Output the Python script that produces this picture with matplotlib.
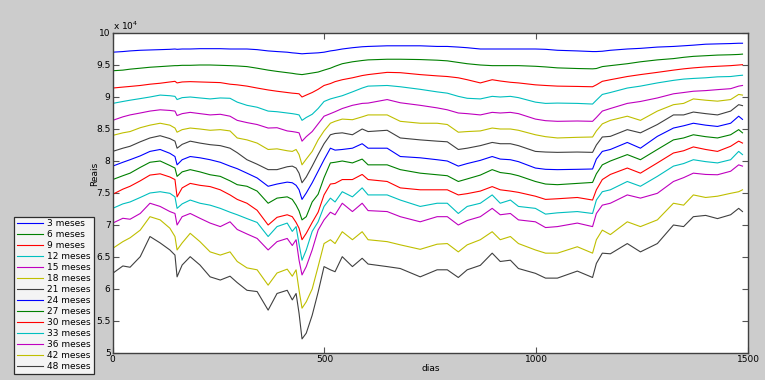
import numpy as np
import matplotlib
matplotlib.use('Agg')
import matplotlib.pyplot as plt

# dias (eixo x) onde os valores foram lidos
dias = [0, 24, 41, 65, 88, 112, 135, 147, 152, 164, 183,
        206, 230, 254, 277, 294, 317, 341, 367, 388, 412, 424,
        433, 440, 447, 457, 471, 485, 499, 514, 525, 542, 566,
        589, 603, 648, 679, 726, 766, 790, 816, 837, 868, 896,
        915, 939, 958, 998, 1022, 1050, 1097, 1133, 1142, 1156, 1175,
        1215, 1246, 1286, 1324, 1348, 1371, 1400, 1428, 1459, 1478, 1487]

# valores em reais / 10^4
m03 = [9.70, 9.71, 9.72, 9.73, 9.735, 9.74, 9.745, 9.75, 9.745, 9.75, 9.75,
       9.755, 9.755, 9.755, 9.75, 9.75, 9.75, 9.74, 9.72, 9.71, 9.70, 9.69,
       9.685, 9.68, 9.675, 9.68, 9.685, 9.69, 9.70, 9.72, 9.73, 9.75, 9.77,
       9.785, 9.79, 9.80, 9.80, 9.80, 9.79, 9.79, 9.78, 9.77, 9.75, 9.75,
       9.75, 9.75, 9.75, 9.75, 9.745, 9.73, 9.72, 9.71, 9.71, 9.715, 9.73,
       9.75, 9.76, 9.78, 9.79, 9.80, 9.81, 9.825, 9.83, 9.835, 9.84, 9.84]
m06 = [9.41, 9.42, 9.435, 9.45, 9.465, 9.475, 9.485, 9.49, 9.49, 9.495, 9.495,
       9.50, 9.50, 9.495, 9.49, 9.485, 9.475, 9.45, 9.42, 9.40, 9.38, 9.37,
       9.36, 9.355, 9.35, 9.36, 9.375, 9.39, 9.42, 9.45, 9.48, 9.52, 9.55,
       9.57, 9.58, 9.59, 9.59, 9.585, 9.575, 9.565, 9.54, 9.52, 9.50, 9.49,
       9.49, 9.49, 9.49, 9.48, 9.47, 9.455, 9.445, 9.44, 9.445, 9.475, 9.49,
       9.52, 9.55, 9.58, 9.60, 9.62, 9.635, 9.645, 9.655, 9.66, 9.665, 9.67]
m09 = [9.14, 9.155, 9.165, 9.18, 9.20, 9.215, 9.235, 9.245, 9.22, 9.235, 9.24,
       9.235, 9.23, 9.225, 9.20, 9.19, 9.17, 9.14, 9.11, 9.09, 9.07, 9.06,
       9.055, 9.05, 9.00, 9.03, 9.07, 9.12, 9.18, 9.21, 9.24, 9.27, 9.30,
       9.335, 9.35, 9.385, 9.38, 9.35, 9.33, 9.32, 9.30, 9.27, 9.22, 9.27,
       9.25, 9.23, 9.22, 9.19, 9.18, 9.17, 9.165, 9.16, 9.19, 9.245, 9.27,
       9.32, 9.35, 9.385, 9.42, 9.44, 9.455, 9.47, 9.48, 9.49, 9.50, 9.505]
m12 = [8.90, 8.93, 8.95, 8.975, 9.00, 9.03, 9.02, 9.01, 8.96, 8.99, 9.00,
       8.985, 8.97, 8.985, 8.98, 8.92, 8.87, 8.84, 8.78, 8.77, 8.75, 8.74,
       8.73, 8.72, 8.635, 8.68, 8.73, 8.82, 8.93, 8.97, 8.99, 9.02, 9.08,
       9.14, 9.17, 9.18, 9.16, 9.12, 9.08, 9.06, 9.01, 8.98, 8.97, 9.01,
       9.00, 9.01, 8.99, 8.92, 8.90, 8.905, 8.90, 8.89, 8.95, 9.04, 9.07,
       9.14, 9.17, 9.22, 9.26, 9.28, 9.29, 9.30, 9.315, 9.32, 9.335, 9.34]
m15 = [8.635, 8.69, 8.72, 8.75, 8.78, 8.80, 8.79, 8.78, 8.71, 8.74, 8.76,
       8.74, 8.72, 8.73, 8.70, 8.635, 8.60, 8.57, 8.515, 8.52, 8.47, 8.46,
       8.45, 8.44, 8.31, 8.38, 8.46, 8.58, 8.70, 8.74, 8.77, 8.82, 8.87,
       8.90, 8.905, 8.96, 8.91, 8.87, 8.83, 8.80, 8.75, 8.74, 8.72, 8.76,
       8.75, 8.76, 8.74, 8.655, 8.63, 8.62, 8.625, 8.62, 8.68, 8.78, 8.82,
       8.90, 8.93, 8.985, 9.05, 9.07, 9.09, 9.10, 9.115, 9.13, 9.17, 9.18]
m18 = [8.40, 8.44, 8.46, 8.52, 8.56, 8.59, 8.56, 8.515, 8.45, 8.49, 8.515,
       8.50, 8.48, 8.49, 8.47, 8.36, 8.33, 8.28, 8.18, 8.19, 8.16, 8.15,
       8.18, 8.10, 7.94, 8.03, 8.15, 8.33, 8.47, 8.59, 8.62, 8.655, 8.645,
       8.69, 8.72, 8.72, 8.62, 8.59, 8.59, 8.57, 8.45, 8.46, 8.47, 8.515,
       8.50, 8.50, 8.48, 8.41, 8.38, 8.36, 8.37, 8.375, 8.47, 8.58, 8.635,
       8.70, 8.635, 8.78, 8.88, 8.90, 8.97, 8.95, 8.935, 8.96, 9.04, 9.03]
m21 = [8.15, 8.20, 8.23, 8.30, 8.36, 8.395, 8.35, 8.31, 8.20, 8.26, 8.31,
       8.28, 8.255, 8.24, 8.20, 8.13, 8.02, 7.95, 7.865, 7.865, 7.91, 7.92,
       7.89, 7.81, 7.66, 7.75, 7.92, 8.10, 8.27, 8.41, 8.43, 8.44, 8.41,
       8.50, 8.46, 8.48, 8.36, 8.33, 8.31, 8.30, 8.18, 8.20, 8.24, 8.29,
       8.27, 8.27, 8.24, 8.15, 8.14, 8.135, 8.14, 8.135, 8.25, 8.375, 8.385,
       8.49, 8.44, 8.57, 8.72, 8.72, 8.765, 8.74, 8.72, 8.78, 8.88, 8.865]
m24 = [7.92, 7.98, 8.02, 8.08, 8.15, 8.18, 8.12, 8.07, 7.94, 8.02, 8.07,
       8.05, 8.02, 7.98, 7.92, 7.88, 7.81, 7.735, 7.605, 7.64, 7.67, 7.66,
       7.62, 7.55, 7.40, 7.50, 7.66, 7.84, 8.02, 8.20, 8.17, 8.18, 8.20,
       8.27, 8.20, 8.20, 8.07, 8.05, 8.02, 8.00, 7.92, 7.96, 8.01, 8.07,
       8.03, 8.02, 7.99, 7.89, 7.87, 7.865, 7.87, 7.875, 8.03, 8.15, 8.18,
       8.29, 8.20, 8.385, 8.515, 8.55, 8.59, 8.56, 8.54, 8.59, 8.70, 8.65]
m27 = [7.71, 7.77, 7.81, 7.90, 7.98, 8.00, 7.93, 7.89, 7.76, 7.83, 7.865,
       7.83, 7.785, 7.76, 7.69, 7.63, 7.605, 7.53, 7.34, 7.42, 7.44, 7.40,
       7.31, 7.22, 7.08, 7.13, 7.36, 7.48, 7.74, 7.97, 7.98, 8.00, 7.97,
       8.03, 7.94, 7.94, 7.865, 7.81, 7.785, 7.77, 7.68, 7.72, 7.78, 7.865,
       7.82, 7.80, 7.77, 7.68, 7.64, 7.63, 7.65, 7.665, 7.80, 7.94, 8.00,
       8.10, 8.02, 8.18, 8.33, 8.36, 8.41, 8.38, 8.36, 8.41, 8.49, 8.44]
m30 = [7.48, 7.56, 7.605, 7.69, 7.78, 7.80, 7.75, 7.71, 7.44, 7.58, 7.65,
       7.62, 7.60, 7.55, 7.47, 7.40, 7.34, 7.23, 7.00, 7.12, 7.16, 7.13,
       7.04, 6.95, 6.77, 6.87, 7.04, 7.20, 7.47, 7.64, 7.65, 7.71, 7.71,
       7.79, 7.71, 7.68, 7.58, 7.55, 7.55, 7.55, 7.47, 7.49, 7.53, 7.60,
       7.55, 7.53, 7.51, 7.45, 7.40, 7.41, 7.43, 7.39, 7.55, 7.71, 7.79,
       7.89, 7.81, 7.97, 8.125, 8.16, 8.22, 8.18, 8.15, 8.23, 8.31, 8.28]
m33 = [7.26, 7.33, 7.36, 7.43, 7.50, 7.52, 7.495, 7.44, 7.26, 7.33, 7.39,
       7.34, 7.31, 7.26, 7.20, 7.16, 7.10, 7.04, 6.82, 6.975, 7.03, 6.90,
       6.975, 6.70, 6.45, 6.61, 6.90, 7.05, 7.29, 7.42, 7.36, 7.52, 7.44,
       7.58, 7.47, 7.47, 7.39, 7.29, 7.34, 7.34, 7.18, 7.29, 7.34, 7.47,
       7.34, 7.39, 7.29, 7.26, 7.17, 7.19, 7.21, 7.18, 7.39, 7.52, 7.55,
       7.68, 7.605, 7.76, 7.92, 7.96, 8.02, 7.99, 7.97, 8.02, 8.15, 8.10]
m36 = [7.03, 7.105, 7.09, 7.18, 7.34, 7.29, 7.21, 7.18, 7.00, 7.13, 7.18,
       7.105, 7.03, 6.975, 7.05, 6.93, 6.86, 6.79, 6.61, 6.74, 6.79, 6.68,
       6.77, 6.45, 6.22, 6.35, 6.61, 6.92, 7.08, 7.20, 7.16, 7.34, 7.21,
       7.34, 7.225, 7.21, 7.13, 7.05, 7.13, 7.13, 7.00, 7.07, 7.13, 7.26,
       7.16, 7.18, 7.08, 7.05, 6.96, 6.975, 7.03, 6.975, 7.18, 7.31, 7.34,
       7.47, 7.42, 7.495, 7.68, 7.74, 7.81, 7.79, 7.785, 7.84, 7.94, 7.92]
m42 = [6.635, 6.74, 6.80, 6.92, 7.13, 7.08, 6.95, 6.82, 6.61, 6.72, 6.87,
       6.74, 6.58, 6.53, 6.58, 6.43, 6.33, 6.30, 6.06, 6.25, 6.31, 6.20,
       6.30, 5.98, 5.70, 5.80, 6.00, 6.35, 6.71, 6.77, 6.71, 6.895, 6.77,
       6.895, 6.77, 6.74, 6.69, 6.62, 6.70, 6.71, 6.58, 6.69, 6.77, 6.895,
       6.77, 6.82, 6.71, 6.61, 6.56, 6.56, 6.66, 6.56, 6.77, 6.92, 6.85,
       7.05, 6.975, 7.08, 7.34, 7.31, 7.47, 7.43, 7.45, 7.495, 7.52, 7.55]
m48 = [6.245, 6.36, 6.34, 6.505, 6.82, 6.72, 6.61, 6.53, 6.19, 6.375, 6.505,
       6.375, 6.19, 6.14, 6.20, 6.10, 5.98, 5.96, 5.67, 5.93, 5.98, 5.83,
       5.93, 5.62, 5.22, 5.31, 5.59, 5.95, 6.35, 6.30, 6.27, 6.505, 6.35,
       6.48, 6.39, 6.35, 6.32, 6.19, 6.30, 6.30, 6.18, 6.30, 6.37, 6.56,
       6.43, 6.45, 6.32, 6.245, 6.17, 6.17, 6.28, 6.18, 6.40, 6.56, 6.55,
       6.71, 6.58, 6.71, 7.00, 6.975, 7.13, 7.15, 7.10, 7.16, 7.26, 7.21]

rotulos = ['3 meses', '6 meses', '9 meses', '12 meses', '15 meses', '18 meses',
           '21 meses', '24 meses', '27 meses', '30 meses', '33 meses', '36 meses',
           '42 meses', '48 meses']
series = [m03, m06, m09, m12, m15, m18, m21, m24, m27, m30, m33, m36, m42, m48]

# ordem de cores antiga do matlab
cores = [(0, 0, 1), (0, 0.5, 0), (1, 0, 0), (0, 0.75, 0.75),
         (0.75, 0, 0.75), (0.75, 0.75, 0), (0.25, 0.25, 0.25)]

plt.rcParams['font.family'] = 'DejaVu Sans'
fig = plt.figure(figsize=(7.65, 3.8), dpi=100, facecolor='#cccccc')
ax = fig.add_axes([112.7/765, 27/380, 635.3/765, 320/380])
ax.set_facecolor('white')

linhas = []
for i, (s, rot) in enumerate(zip(series, rotulos)):
    l, = ax.plot(dias, s, color=cores[i % 7], lw=0.8, label=rot)
    linhas.append(l)

ax.set_xlim(0, 1500)
ax.set_ylim(5, 10)
ax.set_xticks([0, 500, 1000, 1500])
ax.set_yticks(np.arange(5, 10.01, 0.5))
ax.set_yticklabels(['%g' % v for v in np.arange(5, 10.01, 0.5)])
ax.tick_params(direction='in', length=4.5, width=0.8, color='#555555',
               labelsize=6.5, top=True, right=True, pad=1.5)
for sp in ax.spines.values():
    sp.set_color('#404040')
    sp.set_linewidth(1.0)

ax.set_xlabel('dias', fontsize=6.5, labelpad=1)
ax.set_ylabel('Reais', fontsize=6.5, labelpad=1)
ax.yaxis.set_label_coords(-0.022, 0.56)
ax.xaxis.set_label_coords(0.5, -0.035)
fig.text(112.7/765, 1 - 26/380, r'x 10$^4$', fontsize=6.5, ha='left', va='center')

leg = fig.legend(handles=linhas, loc='lower left',
                 bbox_to_anchor=(14/765, 6/380, 80/765, 162/380), mode='expand',
                 fontsize=6.5, frameon=True, fancybox=False, borderaxespad=0,
                 labelspacing=0.22, handlelength=2.9, handletextpad=0.45,
                 borderpad=0.3)
leg.get_frame().set_edgecolor('black')
leg.get_frame().set_linewidth(0.9)
leg.get_frame().set_facecolor('white')

fig.savefig('out.png', dpi=100, facecolor=fig.get_facecolor())
